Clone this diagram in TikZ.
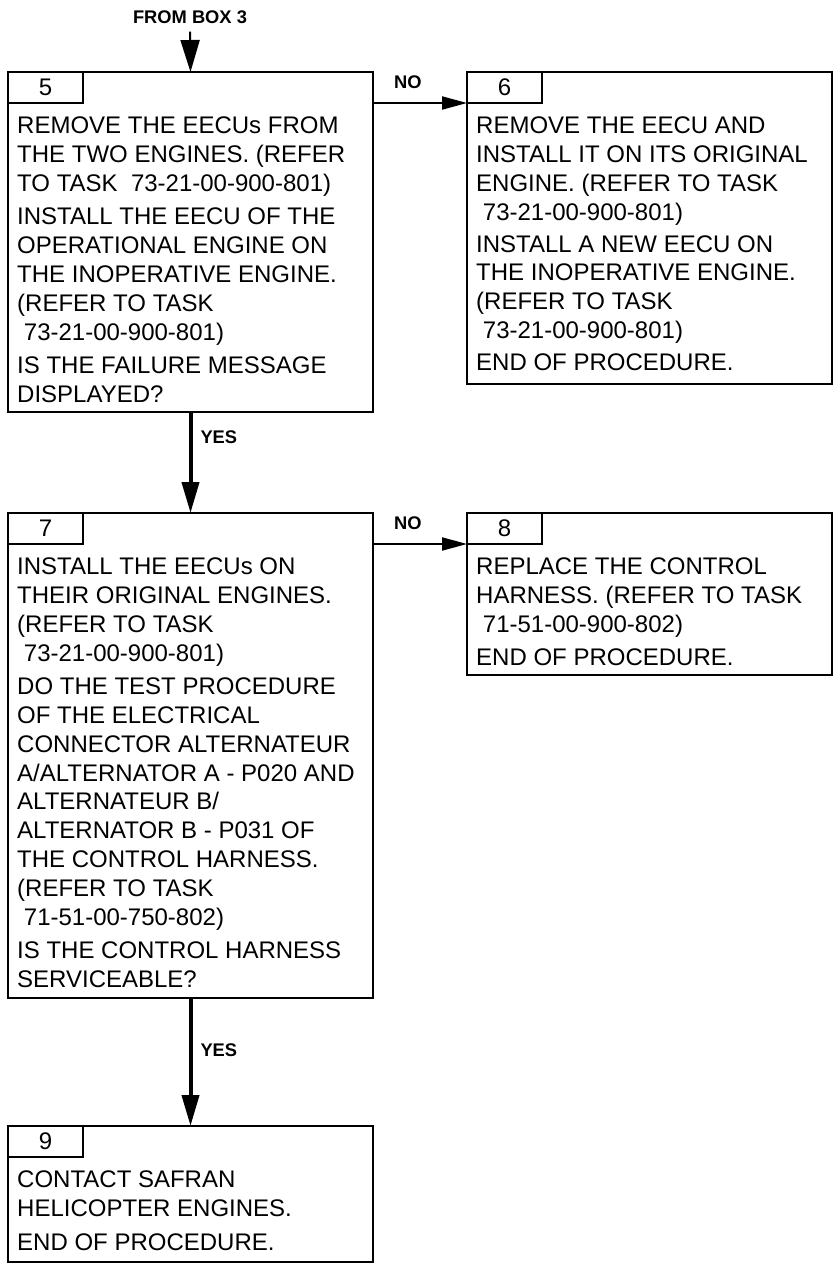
\documentclass[tikz,border=0pt]{standalone}
\usepackage{fontspec}
\setmainfont{Liberation Sans}
\usepackage{tikz}
\usetikzlibrary{arrows.meta,positioning}
\newcommand{\ind}{\hspace*{.28em}}
\tikzset{
  stepbox/.style={draw=black, line width=2pt, minimum width=365pt, inner sep=0pt, outer sep=0pt},
  tabbox/.style={draw=black, line width=2pt, minimum width=75pt, minimum height=31pt, inner sep=0pt, outer sep=0pt, anchor=north west, font=\fontsize{24}{28.8}\selectfont},
  bodytext/.style={align=left, inner sep=0pt, font=\fontsize{24}{28.8}\selectfont},
  lbl/.style={inner sep=0pt, font=\fontsize{18.3}{20}\selectfont\bfseries},
  noarr/.style={-{Triangle[length=25pt,width=13pt]}, line width=2pt},
  yesarr/.style={-{Triangle[length=31pt,width=17pt]}, line width=4pt},
  toparr/.style={-{Triangle[length=32pt,width=19pt]}, line width=2pt}
}
\begin{document}
\begin{tikzpicture}[x=1pt, y=-1pt]
\useasboundingbox (0,0) rectangle (838,1265);

\node[stepbox, anchor=north west, minimum height=340pt] (b5) at (8,72) {};
\node[stepbox, right=94pt of b5.north east, anchor=north west, minimum height=312pt] (b6) {};
\node[stepbox, below=101pt of b5.south west, anchor=north west, minimum height=485pt] (b7) {};
\node[stepbox, right=94pt of b7.north east, anchor=north west, minimum height=162pt] (b8) {};
\node[stepbox, below=128pt of b7.south west, anchor=north west, minimum height=136pt] (b9) {};

\node[tabbox] (t5) at (b5.north west) {5};
\node[tabbox] (t6) at (b6.north west) {6};
\node[tabbox] (t7) at (b7.north west) {7};
\node[tabbox] (t8) at (b8.north west) {8};
\node[tabbox] (t9) at (b9.north west) {9};

\node[bodytext, below right=14pt and 9pt of t5.south west] (x5) {REMOVE THE EECUs FROM\\
THE TWO ENGINES. (REFER\\
TO TASK~~73-21-00-900-801)\\[4.5pt]
INSTALL THE EECU OF THE\\
OPERATIONAL ENGINE ON\\
THE INOPERATIVE ENGINE.\\
(REFER TO TASK\\
\ind 73-21-00-900-801)\\[4.5pt]
IS THE FAILURE MESSAGE\\
DISPLAYED?};
\node[bodytext, below right=14pt and 9pt of t6.south west] (x6) {REMOVE THE EECU AND\\
INSTALL IT ON ITS ORIGINAL\\
ENGINE. (REFER TO TASK\\
\ind 73-21-00-900-801)\\[3pt]
INSTALL A NEW EECU ON\\
THE INOPERATIVE ENGINE.\\
(REFER TO TASK\\
\ind 73-21-00-900-801)\\[3pt]
END OF PROCEDURE.};
\node[bodytext, below right=14pt and 9pt of t7.south west] (x7) {INSTALL THE EECUs ON\\
THEIR ORIGINAL ENGINES.\\
(REFER TO TASK\\
\ind 73-21-00-900-801)\\[4.5pt]
DO THE TEST PROCEDURE\\
OF THE ELECTRICAL\\
CONNECTOR ALTERNATEUR\\
A/ALTERNATOR A - P020 AND\\
ALTERNATEUR B/\\
ALTERNATOR B - P031 OF\\
THE CONTROL HARNESS.\\
(REFER TO TASK\\
\ind 71-51-00-750-802)\\[4.5pt]
IS THE CONTROL HARNESS\\
SERVICEABLE?};
\node[bodytext, below right=14pt and 9pt of t8.south west] (x8) {REPLACE THE CONTROL\\
HARNESS. (REFER TO TASK\\
\ind 71-51-00-900-802)\\[4.5pt]
END OF PROCEDURE.};
\node[bodytext, below right=14pt and 9pt of t9.south west] (x9) {CONTACT SAFRAN\\
HELICOPTER ENGINES.\\[4.5pt]
END OF PROCEDURE.};

\node[lbl] (from) at (190,17) {FROM BOX 3};
\draw[toparr] ([yshift=-8pt]from.south) -- (b5.north);
\draw[noarr] (t6.south west -| b5.east) -- node[lbl, pos=0.37, above=13pt] {NO} (t6.south west);
\draw[yesarr] (b5.south) -- node[lbl, pos=0.25, right=8pt] {YES} (b7.north);
\draw[noarr] (t8.south west -| b7.east) -- node[lbl, pos=0.37, above=13pt] {NO} (t8.south west);
\draw[yesarr] (b7.south) -- node[lbl, pos=0.41, right=8pt] {YES} (b9.north);
\end{tikzpicture}
\end{document}
